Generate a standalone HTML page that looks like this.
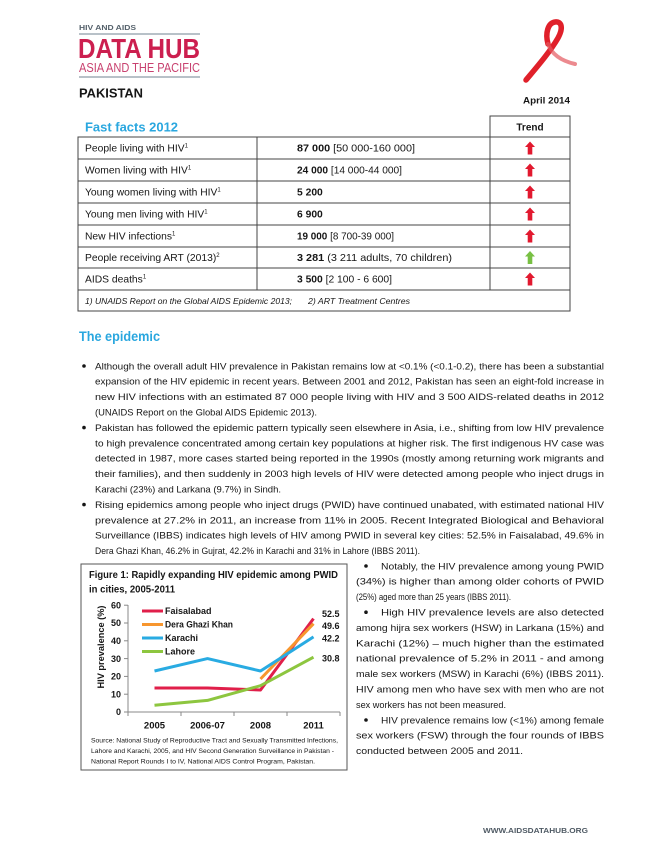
<!DOCTYPE html>
<html><head><meta charset="utf-8"><style>
html,body{margin:0;padding:0;background:#fff;}
svg{display:block;}
text{font-family:"Liberation Sans",Arial,sans-serif;fill:#161616;}
</style></head><body>
<svg width="670" height="867" viewBox="0 0 670 867" xmlns="http://www.w3.org/2000/svg">
<rect width="670" height="867" fill="#fff"/>

<!-- Logo -->
<text x="79" y="30" font-size="7.5" font-weight="bold" style="fill:#56626c" textLength="57" lengthAdjust="spacingAndGlyphs">HIV AND AIDS</text>
<line x1="79" y1="34" x2="200" y2="34" stroke="#8d9ca6" stroke-width="1.2"/>
<text x="78" y="58" font-size="28" font-weight="bold" style="fill:#cc1f4f" textLength="122" lengthAdjust="spacingAndGlyphs">DATA HUB</text>
<text x="79" y="72" font-size="13" style="fill:#c8416f" textLength="121" lengthAdjust="spacingAndGlyphs">ASIA AND THE PACIFIC</text>
<line x1="79" y1="77" x2="200" y2="77" stroke="#8d9ca6" stroke-width="1.2"/>
<text x="79" y="97.5" font-size="12.5" font-weight="bold" textLength="64" lengthAdjust="spacingAndGlyphs">PAKISTAN</text>

<!-- Ribbon -->
<path d="M526,80 C536,68 550,52 558,38 C564,27 561,21 555,22 C548,23 545,33 548,44" fill="none" stroke="#e0202a" stroke-width="5.5" stroke-linecap="round"/>
<path d="M548,44 C552,55 562,61 575,64" fill="none" stroke="#e4595f" stroke-width="4" stroke-linecap="round" opacity="0.7"/>
<text x="523" y="103.5" font-size="9.5" font-weight="bold" textLength="47" lengthAdjust="spacingAndGlyphs">April 2014</text>

<!-- Fast facts table -->
<text x="85" y="131.5" font-size="13" font-weight="bold" style="fill:#2aa7df" textLength="93" lengthAdjust="spacingAndGlyphs">Fast facts 2012</text>
<rect x="490" y="116" width="80" height="21" fill="none" stroke="#444" stroke-width="1"/>
<text x="530" y="130.5" font-size="10" font-weight="bold" text-anchor="middle">Trend</text>
<rect x="78" y="137" width="492" height="174" fill="none" stroke="#444" stroke-width="1"/>
<g stroke="#444" stroke-width="1">
<line x1="78" y1="159" x2="570" y2="159"/>
<line x1="78" y1="181" x2="570" y2="181"/>
<line x1="78" y1="203" x2="570" y2="203"/>
<line x1="78" y1="225" x2="570" y2="225"/>
<line x1="78" y1="247" x2="570" y2="247"/>
<line x1="78" y1="268" x2="570" y2="268"/>
<line x1="78" y1="290" x2="570" y2="290"/>
<line x1="257" y1="137" x2="257" y2="290"/>
<line x1="490" y1="137" x2="490" y2="290"/>
</g>
<g font-size="10.3">
<text x="85" y="151.5">People living with HIV<tspan font-size="6" dy="-4">1</tspan></text>
<text x="85" y="173.5">Women living with HIV<tspan font-size="6" dy="-4">1</tspan></text>
<text x="85" y="195.5">Young women living with HIV<tspan font-size="6" dy="-4">1</tspan></text>
<text x="85" y="217.5">Young men living with HIV<tspan font-size="6" dy="-4">1</tspan></text>
<text x="85" y="239.5">New HIV infections<tspan font-size="6" dy="-4">1</tspan></text>
<text x="85" y="261">People receiving ART (2013)<tspan font-size="6" dy="-4">2</tspan></text>
<text x="85" y="282.5">AIDS deaths<tspan font-size="6" dy="-4">1</tspan></text>
<text x="297" y="151.5" textLength="118" lengthAdjust="spacingAndGlyphs"><tspan font-weight="bold">87 000</tspan> [50 000-160 000]</text>
<text x="297" y="173.5" textLength="105" lengthAdjust="spacingAndGlyphs"><tspan font-weight="bold">24 000</tspan> [14 000-44 000]</text>
<text x="297" y="195.5" font-weight="bold">5 200</text>
<text x="297" y="217.5" font-weight="bold">6 900</text>
<text x="297" y="239.5" textLength="97" lengthAdjust="spacingAndGlyphs"><tspan font-weight="bold">19 000</tspan> [8 700-39 000]</text>
<text x="297" y="261" textLength="155" lengthAdjust="spacingAndGlyphs"><tspan font-weight="bold">3 281</tspan> (3 211 adults, 70 children)</text>
<text x="297" y="282.5" textLength="95" lengthAdjust="spacingAndGlyphs"><tspan font-weight="bold">3 500</tspan> [2 100 - 6 600]</text>
</g>
<g fill="#e2192f">
<polygon points="530,141.5 535,147 532.3,147 532.3,154.5 527.7,154.5 527.7,147 525,147"/>
<polygon points="530,163.5 535,169 532.3,169 532.3,176.5 527.7,176.5 527.7,169 525,169"/>
<polygon points="530,185.5 535,191 532.3,191 532.3,198.5 527.7,198.5 527.7,191 525,191"/>
<polygon points="530,207.5 535,213 532.3,213 532.3,220.5 527.7,220.5 527.7,213 525,213"/>
<polygon points="530,229.5 535,235 532.3,235 532.3,242.5 527.7,242.5 527.7,235 525,235"/>
<polygon points="530,272.5 535,278 532.3,278 532.3,285.5 527.7,285.5 527.7,278 525,278"/>
</g>
<polygon fill="#78c043" points="530,251 535,256.5 532.3,256.5 532.3,264 527.7,264 527.7,256.5 525,256.5"/>
<text x="85" y="304" font-size="8.3" font-style="italic" textLength="207" lengthAdjust="spacingAndGlyphs">1) UNAIDS Report on the Global AIDS Epidemic 2013;</text>
<text x="308" y="304" font-size="8.3" font-style="italic" textLength="102" lengthAdjust="spacingAndGlyphs">2) ART Treatment Centres</text>

<!-- The epidemic -->
<text x="79" y="341" font-size="13.5" font-weight="bold" style="fill:#2aa7df" textLength="81" lengthAdjust="spacingAndGlyphs">The epidemic</text>

<g fill="#161616">
<circle cx="84" cy="366" r="1.8"/>
<circle cx="84" cy="427.6" r="1.8"/>
<circle cx="84" cy="504.6" r="1.8"/>
<circle cx="366" cy="566" r="1.8"/>
<circle cx="366" cy="612.2" r="1.8"/>
<circle cx="366" cy="720" r="1.8"/>
</g>

<g font-size="9.4">
<text x="95" y="369.3" textLength="509" lengthAdjust="spacingAndGlyphs">Although the overall adult HIV prevalence in Pakistan remains low at &lt;0.1% (&lt;0.1-0.2), there has been a substantial</text>
<text x="95" y="384.7" textLength="509" lengthAdjust="spacingAndGlyphs">expansion of the HIV epidemic in recent years. Between 2001 and 2012, Pakistan has seen an eight-fold increase in</text>
<text x="95" y="400.1" textLength="509" lengthAdjust="spacingAndGlyphs">new HIV infections with an estimated 87 000 people living with HIV and 3 500 AIDS-related deaths in 2012</text>
<text x="95" y="415.5" textLength="222" lengthAdjust="spacingAndGlyphs">(UNAIDS Report on the Global AIDS Epidemic 2013).</text>
<text x="95" y="430.9" textLength="509" lengthAdjust="spacingAndGlyphs">Pakistan has followed the epidemic pattern typically seen elsewhere in Asia, i.e., shifting from low HIV prevalence</text>
<text x="95" y="446.3" textLength="509" lengthAdjust="spacingAndGlyphs">to high prevalence concentrated among certain key populations at higher risk. The first indigenous HV case was</text>
<text x="95" y="461.7" textLength="509" lengthAdjust="spacingAndGlyphs">detected in 1987, more cases started being reported in the 1990s (mostly among returning work migrants and</text>
<text x="95" y="477.1" textLength="509" lengthAdjust="spacingAndGlyphs">their families), and then suddenly in 2003 high levels of HIV were detected among people who inject drugs in</text>
<text x="95" y="492.5" textLength="186" lengthAdjust="spacingAndGlyphs">Karachi (23%) and Larkana (9.7%) in Sindh.</text>
<text x="95" y="507.9" textLength="509" lengthAdjust="spacingAndGlyphs">Rising epidemics among people who inject drugs (PWID) have continued unabated, with estimated national HIV</text>
<text x="95" y="523.3" textLength="509" lengthAdjust="spacingAndGlyphs">prevalence at 27.2% in 2011, an increase from 11% in 2005. Recent Integrated Biological and Behavioral</text>
<text x="95" y="538.7" textLength="509" lengthAdjust="spacingAndGlyphs">Surveillance (IBBS) indicates high levels of HIV among PWID in several key cities: 52.5% in Faisalabad, 49.6% in</text>
<text x="95" y="554.1" textLength="325" lengthAdjust="spacingAndGlyphs">Dera Ghazi Khan, 46.2% in Gujrat, 42.2% in Karachi and 31% in Lahore (IBBS 2011).</text>
</g>

<!-- Right column -->
<g font-size="9.4">
<text x="381" y="569.3" textLength="223" lengthAdjust="spacingAndGlyphs">Notably, the HIV prevalence among young PWID</text>
<text x="356" y="584.7" textLength="248" lengthAdjust="spacingAndGlyphs">(34%) is higher than among older cohorts of PWID</text>
<text x="356" y="600.1" textLength="155" lengthAdjust="spacingAndGlyphs">(25%) aged more than 25 years  (IBBS 2011).</text>
<text x="381" y="615.5" textLength="223" lengthAdjust="spacingAndGlyphs">High HIV prevalence levels are also detected</text>
<text x="356" y="630.9" textLength="248" lengthAdjust="spacingAndGlyphs">among hijra sex workers (HSW) in Larkana (15%) and</text>
<text x="356" y="646.3" textLength="248" lengthAdjust="spacingAndGlyphs">Karachi (12%) – much higher than the estimated</text>
<text x="356" y="661.7" textLength="248" lengthAdjust="spacingAndGlyphs">national prevalence of 5.2% in 2011 - and among</text>
<text x="356" y="677.1" textLength="248" lengthAdjust="spacingAndGlyphs">male sex workers (MSW) in Karachi (6%) (IBBS 2011).</text>
<text x="356" y="692.5" textLength="248" lengthAdjust="spacingAndGlyphs">HIV among men who have sex with men who are not</text>
<text x="356" y="707.9" textLength="150" lengthAdjust="spacingAndGlyphs">sex workers has not been measured.</text>
<text x="381" y="723.3" textLength="223" lengthAdjust="spacingAndGlyphs">HIV prevalence remains low (&lt;1%) among female</text>
<text x="356" y="738.7" textLength="248" lengthAdjust="spacingAndGlyphs">sex workers (FSW) through the four rounds of IBBS</text>
<text x="356" y="754.1" textLength="167" lengthAdjust="spacingAndGlyphs">conducted between 2005 and 2011.</text>
</g>

<!-- Figure box -->
<rect x="81" y="564" width="266" height="206" fill="none" stroke="#555" stroke-width="1"/>
<text x="89" y="578" font-size="9.8" font-weight="bold" textLength="249" lengthAdjust="spacingAndGlyphs">Figure 1: Rapidly expanding HIV epidemic among PWID</text>
<text x="89" y="592.5" font-size="9.8" font-weight="bold" textLength="86" lengthAdjust="spacingAndGlyphs">in cities, 2005-2011</text>

<!-- axes -->
<g stroke="#888" stroke-width="1">
<line x1="128" y1="605" x2="128" y2="712"/>
<line x1="128" y1="712" x2="340" y2="712"/>
<line x1="124" y1="712" x2="128" y2="712"/>
<line x1="124" y1="694.2" x2="128" y2="694.2"/>
<line x1="124" y1="676.4" x2="128" y2="676.4"/>
<line x1="124" y1="658.6" x2="128" y2="658.6"/>
<line x1="124" y1="640.8" x2="128" y2="640.8"/>
<line x1="124" y1="623" x2="128" y2="623"/>
<line x1="124" y1="605.2" x2="128" y2="605.2"/>
<line x1="128" y1="712" x2="128" y2="716"/>
<line x1="181" y1="712" x2="181" y2="716"/>
<line x1="234" y1="712" x2="234" y2="716"/>
<line x1="287" y1="712" x2="287" y2="716"/>
<line x1="340" y1="712" x2="340" y2="716"/>
</g>
<g font-size="9" font-weight="bold" text-anchor="end">
<text x="121" y="715.2">0</text>
<text x="121" y="697.4">10</text>
<text x="121" y="679.6">20</text>
<text x="121" y="661.8">30</text>
<text x="121" y="644">40</text>
<text x="121" y="626.2">50</text>
<text x="121" y="608.4">60</text>
</g>
<text transform="translate(104,647) rotate(-90)" font-size="9" font-weight="bold" text-anchor="middle" textLength="83" lengthAdjust="spacingAndGlyphs">HIV prevalence (%)</text>
<g font-size="9.5" font-weight="bold" text-anchor="middle">
<text x="154.5" y="728.5">2005</text>
<text x="207.5" y="728.5">2006-07</text>
<text x="260.5" y="728.5">2008</text>
<text x="313.5" y="728.5">2011</text>
</g>

<!-- series -->
<g fill="none" stroke-width="3" stroke-linejoin="round" stroke-linecap="butt">
<polyline stroke="#e01f4a" points="154.5,688 207.5,688 260.5,690 313.5,618.6"/>
<polyline stroke="#f7962e" points="260.5,679 313.5,623.7"/>
<polyline stroke="#29abe2" points="154.5,671 207.5,658.6 260.5,671 313.5,636.9"/>
<polyline stroke="#8dc63f" points="154.5,705.2 207.5,700.4 260.5,685.7 313.5,657.2"/>
</g>

<!-- legend -->
<g stroke-width="3">
<line x1="142" y1="611" x2="163" y2="611" stroke="#e01f4a"/>
<line x1="142" y1="624.5" x2="163" y2="624.5" stroke="#f7962e"/>
<line x1="142" y1="638" x2="163" y2="638" stroke="#29abe2"/>
<line x1="142" y1="651.5" x2="163" y2="651.5" stroke="#8dc63f"/>
</g>
<g font-size="9" font-weight="bold">
<text x="165" y="614.2">Faisalabad</text>
<text x="165" y="627.7" textLength="68" lengthAdjust="spacingAndGlyphs">Dera Ghazi Khan</text>
<text x="165" y="641.2">Karachi</text>
<text x="165" y="654.7">Lahore</text>
<text x="322" y="617.2">52.5</text>
<text x="322" y="629">49.6</text>
<text x="322" y="641.5">42.2</text>
<text x="322" y="661.5">30.8</text>
</g>

<g font-size="6.6">
<text x="91" y="742.5" textLength="247" lengthAdjust="spacingAndGlyphs">Source: National Study of Reproductive Tract and Sexually Transmitted Infections,</text>
<text x="91" y="753" textLength="243" lengthAdjust="spacingAndGlyphs">Lahore and Karachi, 2005, and HIV Second Generation Surveillance in Pakistan -</text>
<text x="91" y="763.5" textLength="224" lengthAdjust="spacingAndGlyphs">National Report Rounds I to IV, National AIDS Control Program, Pakistan.</text>
</g>

<!-- footer -->
<text x="483" y="833" font-size="7.2" font-weight="bold" style="fill:#4f5a64" textLength="105" lengthAdjust="spacingAndGlyphs">WWW.AIDSDATAHUB.ORG</text>
</svg>
</body></html>
